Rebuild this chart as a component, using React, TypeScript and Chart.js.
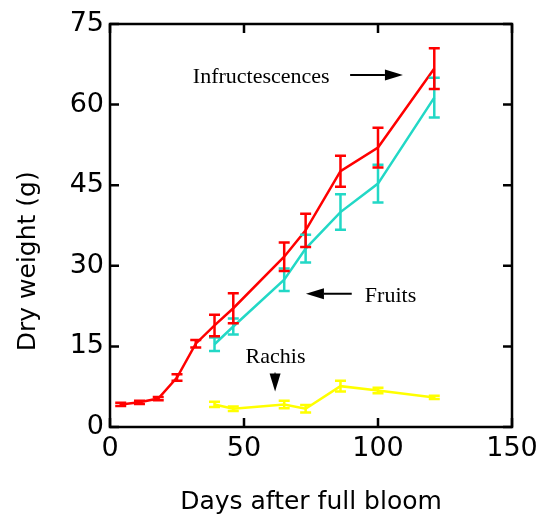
import { useEffect, useRef } from "react";
import { Chart, registerables } from "chart.js";

Chart.register(...registerables);

// ---- data ----
const infrDays = [4, 11, 18, 25, 32, 39, 46, 65, 73, 86, 100, 121];
const infructescences = [4.2, 4.6, 5.3, 9.2, 15.5, 18.9, 22.1, 31.7, 36.6, 47.6, 52.0, 66.7];
const infrErr = [0.3, 0.3, 0.3, 0.6, 0.7, 2.0, 2.8, 2.65, 3.1, 2.9, 3.7, 3.8];

const fruitDays = [39, 46, 65, 73, 86, 100, 121];
const fruits = [15.4, 18.7, 27.4, 33.2, 40.0, 45.3, 61.3];
const fruitErr = [1.25, 1.5, 2.1, 2.6, 3.3, 3.5, 3.7];

const rachisDays = [39, 46, 65, 73, 86, 100, 121];
const rachis = [4.2, 3.4, 4.2, 3.4, 7.6, 6.8, 5.5];
const rachisErr = [0.5, 0.4, 0.7, 0.7, 1.0, 0.5, 0.3];

const xTicks = [0, 50, 100, 150];
const yTicks = [0, 15, 30, 45, 60, 75];

const RED = "#ff0000";
const CYAN = "#22d8c6";
const YELLOW = "#ffff00";

const series = [
  { label: "Fruits", days: fruitDays, values: fruits, errs: fruitErr, color: CYAN },
  { label: "Infructescences", days: infrDays, values: infructescences, errs: infrErr, color: RED },
  { label: "Rachis", days: rachisDays, values: rachis, errs: rachisErr, color: YELLOW },
];

// annotations in data units
const annotations = [
  { text: "Infructescences", x: 30.9, y: 64.0, arrow: { x1: 89.6, y1: 65.5, x2: 109.3, y2: 65.5 } },
  { text: "Fruits", x: 95.1, y: 23.3, arrow: { x1: 90.2, y1: 24.8, x2: 73.1, y2: 24.8 } },
  { text: "Rachis", x: 50.6, y: 11.9, arrow: { x1: 61.6, y1: 10.1, x2: 61.6, y2: 6.6 } },
];

export default function App() {
  const ref = useRef<HTMLCanvasElement>(null);

  useEffect(() => {
    if (!ref.current) return;

    const errorBars = {
      id: "errorBars",
      afterDatasetsDraw(chart: any) {
        const ctx = chart.ctx;
        const xs = chart.scales.x;
        const ys = chart.scales.y;
        ctx.save();
        series.forEach((s) => {
          ctx.strokeStyle = s.color;
          ctx.lineWidth = 2.5;
          s.days.forEach((d, i) => {
            const px = xs.getPixelForValue(d);
            const top = ys.getPixelForValue(s.values[i] + s.errs[i]);
            const bot = ys.getPixelForValue(s.values[i] - s.errs[i]);
            ctx.beginPath();
            ctx.moveTo(px, top);
            ctx.lineTo(px, bot);
            ctx.moveTo(px - 5.5, top);
            ctx.lineTo(px + 5.5, top);
            ctx.moveTo(px - 5.5, bot);
            ctx.lineTo(px + 5.5, bot);
            ctx.stroke();
          });
        });
        ctx.restore();
      },
    };

    const frame = {
      id: "frame",
      afterDraw(chart: any) {
        const ctx = chart.ctx;
        const xs = chart.scales.x;
        const ys = chart.scales.y;
        const { left, right, top, bottom } = chart.chartArea;
        ctx.save();
        ctx.strokeStyle = "#000";
        ctx.lineWidth = 2.5;
        ctx.strokeRect(left, top, right - left, bottom - top);
        const tl = 9;
        ctx.beginPath();
        yTicks.forEach((v) => {
          const py = ys.getPixelForValue(v);
          ctx.moveTo(left, py);
          ctx.lineTo(left + tl, py);
          ctx.moveTo(right, py);
          ctx.lineTo(right - tl, py);
        });
        xTicks.forEach((v) => {
          const px = xs.getPixelForValue(v);
          ctx.moveTo(px, bottom);
          ctx.lineTo(px, bottom - tl);
          ctx.moveTo(px, top);
          ctx.lineTo(px, top + tl);
        });
        ctx.stroke();

        // annotations
        ctx.fillStyle = "#000";
        ctx.font = '22px "Liberation Serif"';
        ctx.textBaseline = "alphabetic";
        ctx.textAlign = "left";
        annotations.forEach((a) => {
          ctx.fillText(a.text, xs.getPixelForValue(a.x), ys.getPixelForValue(a.y));
          const x1 = xs.getPixelForValue(a.arrow.x1);
          const y1 = ys.getPixelForValue(a.arrow.y1);
          const x2 = xs.getPixelForValue(a.arrow.x2);
          const y2 = ys.getPixelForValue(a.arrow.y2);
          const ang = Math.atan2(y2 - y1, x2 - x1);
          const hl = 18;
          const hw = 5.5;
          const bx = x2 - hl * Math.cos(ang);
          const by = y2 - hl * Math.sin(ang);
          ctx.lineWidth = 2;
          ctx.beginPath();
          ctx.moveTo(x1, y1);
          ctx.lineTo(bx, by);
          ctx.stroke();
          ctx.beginPath();
          ctx.moveTo(x2, y2);
          ctx.lineTo(bx - hw * Math.sin(ang), by + hw * Math.cos(ang));
          ctx.lineTo(bx + hw * Math.sin(ang), by - hw * Math.cos(ang));
          ctx.closePath();
          ctx.fill();
        });
        ctx.restore();
      },
    };

    const tickFont = { family: '"DejaVu Sans"', size: 27, lineHeight: 1 };

    const chart = new Chart(ref.current, {
      type: "line",
      data: {
        datasets: series.map((s) => ({
          label: s.label,
          data: s.days.map((d, i) => ({ x: d, y: s.values[i] })),
          borderColor: s.color,
          backgroundColor: s.color,
          borderWidth: 2.5,
          pointRadius: 0,
          tension: 0,
          fill: false,
        })),
      },
      options: {
        animation: false,
        responsive: false,
        devicePixelRatio: 1,
        layout: { padding: { top: 24, right: 35, left: 0, bottom: 0 } },
        plugins: { legend: { display: false }, tooltip: { enabled: false } },
        scales: {
          x: {
            type: "linear",
            min: 0,
            max: 150,
            afterBuildTicks: (s: any) => {
              s.ticks = xTicks.map((v) => ({ value: v }));
            },
            ticks: { font: tickFont, color: "#000", padding: 8, maxRotation: 0 },
            grid: { display: false, drawTicks: false },
            border: { display: false },
            title: {
              display: true,
              text: "Days after full bloom",
              color: "#000",
              font: { family: '"DejaVu Sans"', size: 25, lineHeight: 1 },
              padding: { top: 0, bottom: 4.5 },
            },
            afterFit: (s: any) => {
              s.height = 92;
            },
          },
          y: {
            type: "linear",
            min: 0,
            max: 75,
            afterBuildTicks: (s: any) => {
              s.ticks = yTicks.map((v) => ({ value: v }));
            },
            ticks: { font: tickFont, color: "#000", padding: 6 },
            grid: { display: false, drawTicks: false },
            border: { display: false },
            title: {
              display: true,
              text: "Dry weight (g)         ",
              color: "#000",
              font: { family: '"DejaVu Sans"', size: 25, lineHeight: 1 },
              padding: { top: 15.5, bottom: 0 },
            },
            afterFit: (s: any) => {
              s.width = 110;
            },
          },
        },
      },
      plugins: [errorBars, frame],
    });

    return () => chart.destroy();
  }, []);

  return (
    <div style={{ position: "absolute", left: 0, top: 0, width: 547, height: 519, background: "#fff" }}>
      <canvas ref={ref} width={547} height={519} style={{ display: "block" }} />
    </div>
  );
}
